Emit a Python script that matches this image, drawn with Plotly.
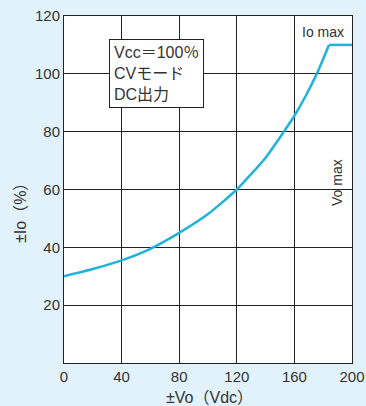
import plotly.graph_objects as go

vo = [0, 20, 40, 60, 80, 100, 120, 140, 152, 160, 168, 176, 184, 200]
io = [30, 32.5, 35.5, 39.5, 45, 51.5, 60, 71, 79.5, 85.5, 92.5, 100.5, 110, 110]

x_ticks = [0, 40, 80, 120, 160, 200]
y_ticks = [20, 40, 60, 80, 100, 120]

BG = "#e2f2fc"
FONT = "Liberation Sans, Arial, sans-serif"
JFONT = "Liberation Sans, Noto Sans CJK JP, sans-serif"
W, H = 366, 406
L, R, T, B = 64, 14, 16, 43
PW, PH = W - L - R, H - T - B


def px(x):
    return (x - L) / PW


def py(y):
    return (H - B - y) / PH


CURVE = "#20b2da"
fig = go.Figure()
fig.add_trace(go.Scatter(x=vo[:-1], y=io[:-1], mode="lines",
                         line=dict(color=CURVE, width=2.5, shape="spline", smoothing=0.5),
                         hoverinfo="skip"))
fig.add_trace(go.Scatter(x=vo[-2:], y=io[-2:], mode="lines",
                         line=dict(color=CURVE, width=2.5), hoverinfo="skip"))

fig.update_layout(
    width=W, height=H,
    paper_bgcolor=BG, plot_bgcolor="white",
    margin=dict(l=L, r=R, t=T, b=B, autoexpand=False),
    showlegend=False,
    font=dict(family=FONT, size=15, color="#333333"),
    xaxis=dict(range=[0, 200], tickvals=x_ticks, ticktext=[str(v) for v in x_ticks],
               showgrid=True, gridcolor="#222222", gridwidth=1,
               showline=True, linecolor="#222222", linewidth=1, mirror=True,
               zeroline=False, ticks="", ticklen=0, automargin=False),
    yaxis=dict(range=[0, 120], tickvals=y_ticks, ticktext=[str(v) for v in y_ticks],
               showgrid=True, gridcolor="#222222", gridwidth=1,
               showline=True, linecolor="#222222", linewidth=1, mirror=True,
               zeroline=False, ticks="", ticklen=0, automargin=False),
)

# axis titles
fig.add_annotation(x=px(209), y=py(397), xref="paper", yref="paper", xanchor="center", yanchor="middle",
                   text="±Vo（Vdc）", showarrow=False, font=dict(family=JFONT, size=16, color="#333333"))
fig.add_annotation(x=px(20), y=py(209), xref="paper", yref="paper", xanchor="center", yanchor="middle",
                   text="±Io（%）", textangle=-90, showarrow=False,
                   font=dict(family=JFONT, size=16, color="#333333"))

# condition box
fig.add_annotation(x=px(109), y=py(39), xref="paper", yref="paper",
                   xanchor="left", yanchor="top",
                   text="Vcc＝100％<br>CVモード<br>DC出力", showarrow=False, align="left",
                   font=dict(family=JFONT, size=16, color="#333333"),
                   bgcolor="white", bordercolor="#222222", borderwidth=1, borderpad=4)

fig.add_annotation(x=px(323), y=py(32), xref="paper", yref="paper", xanchor="center", yanchor="middle",
                   text="Io max", showarrow=False, font=dict(size=14, color="#333333"))
fig.add_annotation(x=px(337), y=py(183), xref="paper", yref="paper",
                   xanchor="center", yanchor="middle",
                   text="Vo max", textangle=-90, showarrow=False, font=dict(size=14, color="#333333"))

fig.write_html("out.html", config={"displayModeBar": False},
               post_script="document.body.style.margin='0';document.body.style.overflow='hidden';")
